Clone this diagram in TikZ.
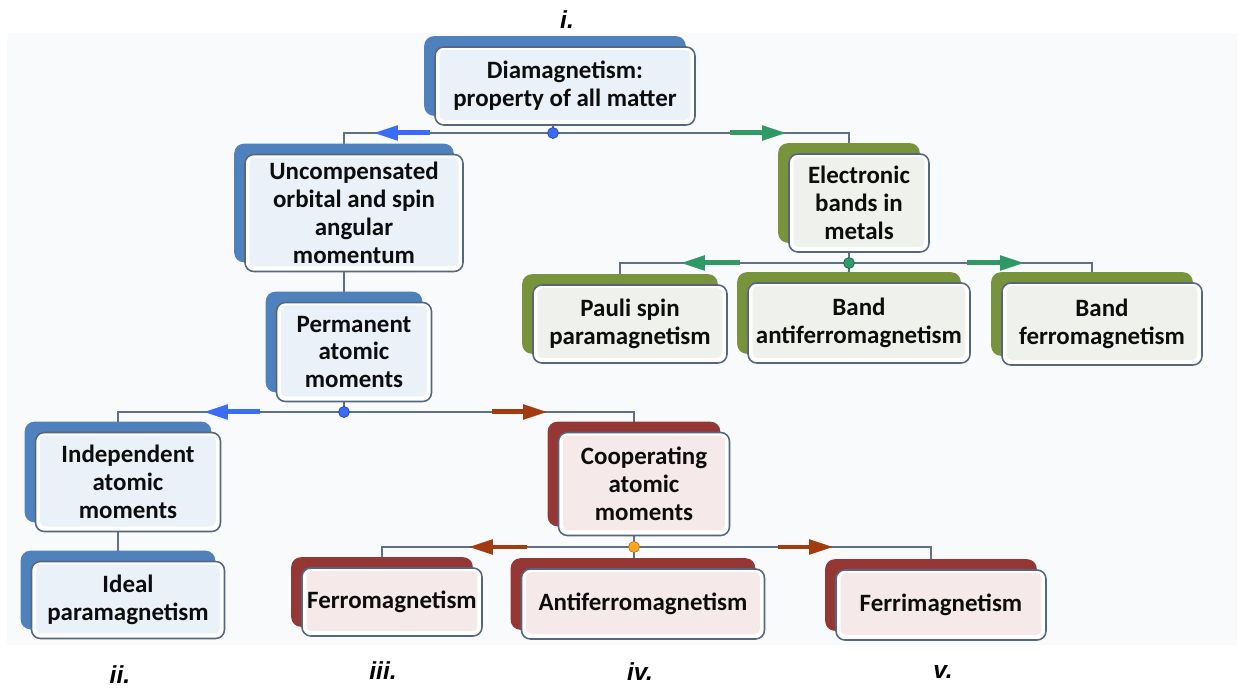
\documentclass[tikz,border=0pt]{standalone}
\usepackage{fontspec}
\setmainfont{Carlito}
\newfontfamily\labfont{Liberation Sans}
\usetikzlibrary{shapes,arrows.meta,positioning,calc,shadows,backgrounds}
\definecolor{bluebk}{HTML}{4F81BD}
\definecolor{greenbk}{HTML}{77933C}
\definecolor{redbk}{HTML}{953735}
\definecolor{bluefc}{HTML}{EBF1F9}
\definecolor{greenfc}{HTML}{EFF1EC}
\definecolor{redfc}{HTML}{F5EAE9}
\definecolor{framec}{HTML}{55667F}
\definecolor{linkc}{HTML}{5F6F86}
\definecolor{panelc}{HTML}{F9FAFC}
\definecolor{arrblue}{HTML}{3B6CF7}
\definecolor{arrgreen}{HTML}{2F9A68}
\definecolor{arrbrown}{HTML}{A33B10}
\definecolor{dotorange}{HTML}{FFA51F}

\begin{document}
\begin{tikzpicture}[x=0.02cm, y=-0.02cm,
  mapbox/.style={rectangle, draw=framec, line width=0.9pt, rounded corners=5pt, fill=white, inner sep=0pt,
    align=center, font=\fontsize{14.2}{15.9}\selectfont\bfseries, text=black!95},
  bluebox/.style={mapbox, copy shadow={shadow xshift=-0.2cm, shadow yshift=0.2cm, fill=bluebk, draw=bluebk},
    path picture={\fill[bluefc, rounded corners=3pt] ([shift={(0.09cm,-0.06cm)}]path picture bounding box.north west) rectangle ([shift={(-0.09cm,0.1cm)}]path picture bounding box.south east);}},
  greenbox/.style={mapbox, copy shadow={shadow xshift=-0.2cm, shadow yshift=0.2cm, fill=greenbk, draw=greenbk},
    path picture={\fill[greenfc, rounded corners=3pt] ([shift={(0.09cm,-0.06cm)}]path picture bounding box.north west) rectangle ([shift={(-0.09cm,0.1cm)}]path picture bounding box.south east);}},
  redbox/.style={mapbox, copy shadow={shadow xshift=-0.2cm, shadow yshift=0.2cm, fill=redbk, draw=redbk},
    path picture={\fill[redfc, rounded corners=3pt] ([shift={(0.09cm,-0.06cm)}]path picture bounding box.north west) rectangle ([shift={(-0.09cm,0.1cm)}]path picture bounding box.south east);}},
  link/.style={draw=linkc, line width=0.9pt},
  arr/.style={-{Triangle[length=0.5cm, width=0.28cm]}, line width=0.1cm},
  jdot/.style={draw=#1!70!black, fill=#1, line width=0.4pt},
  lab/.style={font=\labfont\fontsize{14}{16}\selectfont\bfseries\itshape}
]
  \useasboundingbox (0,0) rectangle (1242,689);

  % top level
  \node[bluebox, minimum width=5.2cm, minimum height=1.56cm] (dia) at (565,86) {Diamagnetism:\\property of all matter};

  % localized moments branch
  \node[bluebox, minimum width=4.36cm, minimum height=2.34cm] (unc) at (354,213) {Uncompensated\\orbital and spin\\angular\\momentum};
  \node[bluebox, minimum width=3.1cm, minimum height=1.98cm] (per) at (354,352) {Permanent\\atomic\\moments};
  \node[bluebox, minimum width=3.7cm, minimum height=1.98cm] (ind) at (128,482) {Independent\\atomic\\moments};
  \node[bluebox, minimum width=3.86cm, minimum height=1.54cm] (ide) at (128,600) {Ideal\\paramagnetism};
  \node[redbox, minimum width=3.42cm, minimum height=2.06cm] (coo) at (644,484) {Cooperating\\atomic\\moments};
  \node[redbox, minimum width=3.6cm, minimum height=1.36cm] (fer) at (392,602) {Ferromagnetism};
  \node[redbox, minimum width=4.86cm, minimum height=1.4cm] (afm) at (643,604) {Antiferromagnetism};
  \node[redbox, minimum width=4.2cm, minimum height=1.4cm] (fri) at (941,605) {Ferrimagnetism};

  % metals branch
  \node[greenbox, minimum width=2.8cm, minimum height=1.96cm] (ele) at (859,203) {Electronic\\bands in\\metals};
  \node[greenbox, minimum width=3.88cm, minimum height=1.56cm] (pau) at (630,324) {Pauli spin\\paramagnetism};
  \node[greenbox, minimum width=4.44cm, minimum height=1.6cm] (ban) at (859,323) {Band\\antiferromagnetism};
  \node[greenbox, minimum width=4.0cm, minimum height=1.64cm] (baf) at (1102,324) {Band\\ferromagnetism};

  % junctions
  \coordinate (j1) at (553,133);
  \coordinate (j2) at (849,263);
  \coordinate (j3) at (344,412);
  \coordinate (j4) at (634,547);

  \begin{scope}[on background layer]
    \fill[panelc] (7,33) rectangle (1237,645);
    \draw[link] (dia.south -| j1) -- (j1);
    \draw[link] ([xshift=-0.2cm]unc.north) |- (j1) -| ([xshift=-0.2cm]ele.north);
    \draw[link] ([xshift=-0.2cm]unc.south) -- ([xshift=-0.2cm]per.north);
    \draw[link] (per.south -| j3) -- (j3);
    \draw[link] ([xshift=-0.2cm]ind.north) |- (j3) -| ([xshift=-0.2cm]coo.north);
    \draw[link] ([xshift=-0.2cm]ind.south) -- ([xshift=-0.2cm]ide.north);
    \draw[link] (coo.south -| j4) -- (j4) -- (afm.north -| j4);
    \draw[link] ([xshift=-0.2cm]fer.north) |- (j4) -| ([xshift=-0.2cm]fri.north);
    \draw[link] (ele.south -| j2) -- (j2) -- (ban.north -| j2);
    \draw[link] ([xshift=-0.2cm]pau.north) |- (j2) -| ([xshift=-0.2cm]baf.north);

    % direction marks
    \draw[arr, arrblue] (j1) ++(-123,0) -- ++(-57,0);
    \draw[arr, arrgreen] (j1) ++(177,0) -- ++(57,0);
    \draw[arr, arrgreen] (j2) ++(-109,0) -- ++(-60,0);
    \draw[arr, arrgreen] (j2) ++(118,0) -- ++(58,0);
    \draw[arr, arrblue] (j3) ++(-84,0) -- ++(-57,0);
    \draw[arr, arrbrown] (j3) ++(148,0) -- ++(56,0);
    \draw[arr, arrbrown] (j4) ++(-107,0) -- ++(-59,0);
    \draw[arr, arrbrown] (j4) ++(144,0) -- ++(56,0);
  \end{scope}

  \fill[jdot=arrblue] (j1) circle (0.11cm);
  \fill[jdot=arrgreen] (j2) circle (0.11cm);
  \fill[jdot=arrblue] (j3) circle (0.11cm);
  \fill[jdot=dotorange] (j4) circle (0.11cm);

  % panel labels
  \node[lab] (li) at (567,20) {i.};
  \node[lab] (lii) at (120,675) {ii.};
  \node[lab] (liii) at (383,671) {iii.};
  \node[lab] (liv) at (640,672) {iv.};
  \node[lab] (lv) at (943,672) {v.};
\end{tikzpicture}
\end{document}
